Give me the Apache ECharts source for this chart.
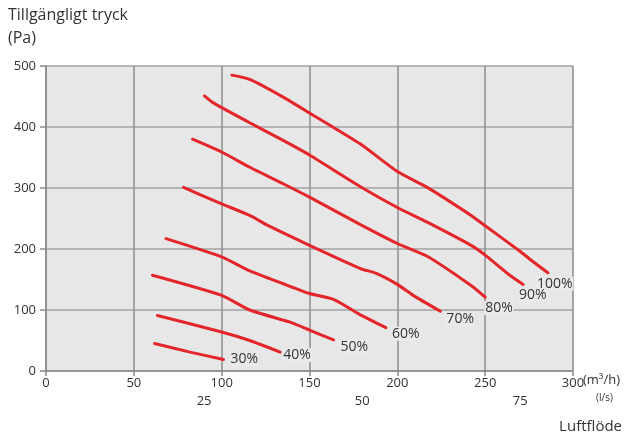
<!DOCTYPE html>
<html>
<head>
<meta charset="utf-8">
<script src="https://cdn.jsdelivr.net/npm/echarts@6/dist/echarts.min.js"></script>
<style>
html,body{margin:0;padding:0;background:#fff;}
#chart{width:624px;height:436px;}
</style>
</head>
<body>
<div id="chart"></div>
<script>
// Flow (m³/h), pressure (Pa)
const xTicks = [0, 50, 100, 150, 200, 250, 300];
const lsTicks = [25, 50, 75];
const seriesNames = ['100%', '90%', '80%', '70%', '60%', '50%', '40%', '30%'];

const s100 = [[105.8,485],[116,478],[135,449],[150,423],[179,372],[200,327],[217,301],[242,255],[250,238],[270,196],[276,182],[285.7,161]];
const s90  = [[90.2,451],[95,440],[116,407],[135,378],[150,354],[179,302],[200,268],[217,244],[242,206],[250,190],[264,157],[271.6,142]];
const s80  = [[83.4,380],[100,359],[116,334],[135,307],[150,285],[179,240],[200,209],[217,188],[242,140],[250,121]];
const s70  = [[78.3,301],[100,274],[116,255],[126,239],[150,206],[179,168],[188,160],[200,142],[209,124],[224.5,98]];
const s60  = [[68.3,217],[100,187],[116,164],[135,143],[150,127],[164,117],[179,92],[193.5,71]];
const s50  = [[60.6,157],[100,124],[116,100],[139,80],[150,67],[163.7,51]];
const s40  = [[63.4,91],[100,64],[116,50],[133.3,31]];
const s30  = [[61.8,45],[82,31],[101,19]];

const allData = [s100, s90, s80, s70, s60, s50, s40, s30];
const labelOffsets = [[-12,11],[-5,11],[-1,11],[5,8],[5,6],[6,7],[2,3],[6,0]];

const chart = echarts.init(document.getElementById('chart'), null, {renderer:'canvas'});
const FONT = '"Open Sans", "Noto Sans", sans-serif';
const TXT = '#333';

const series = allData.map((d, i) => ({
  name: seriesNames[i],
  type: 'line',
  xAxisIndex: 0,
  yAxisIndex: 0,
  data: d,
  smooth: 0.2,
  showSymbol: false,
  symbol: 'none',
  lineStyle: {color: '#e4262b', width: 3, cap: 'round'},
  endLabel: {
    show: true,
    formatter: seriesNames[i],
    distance: 0,
    offset: labelOffsets[i],
    color: TXT,
    fontSize: 14,
    fontFamily: FONT,
    backgroundColor: '#e9eae9',
    padding: [0, 1]
  },
  emphasis: {disabled: true},
  z: 3
}));

chart.setOption({
  animation: false,
  grid: {left: 46, top: 66, width: 527, height: 305, show: true, backgroundColor: '#e6e7e6', borderWidth: 0},
  xAxis: [{
    type: 'value', min: 0, max: 300, interval: 50,
    axisLine: {show: true, lineStyle: {color: '#8a8a8a', width: 1.5}},
    axisTick: {show: true, inside: false, length: 5, lineStyle: {color: '#8a8a8a', width: 1.5}},
    axisLabel: {color: TXT, fontSize: 13, fontFamily: FONT, margin: 6},
    splitLine: {show: true, lineStyle: {color: '#8c8c8c', width: 1.5}}
  }, {
    type: 'value', min: 0, max: 300 / 3.6, interval: 25, position: 'bottom', offset: 20,
    axisLine: {show: false}, axisTick: {show: false}, splitLine: {show: false},
    axisLabel: {color: TXT, fontSize: 13, fontFamily: FONT, margin: 4, showMaxLabel: false,
      formatter: v => (lsTicks.indexOf(v) >= 0 ? String(v) : '')}
  }],
  yAxis: [{
    type: 'value', min: 0, max: 500, interval: 100,
    axisLine: {show: true, lineStyle: {color: '#8a8a8a', width: 1.5}},
    axisTick: {show: true, inside: false, length: 6, lineStyle: {color: '#8a8a8a', width: 1.5}},
    axisLabel: {color: TXT, fontSize: 13, fontFamily: FONT, margin: 10},
    splitLine: {show: true, lineStyle: {color: '#a2a2a2', width: 1.5}}
  }],
  graphic: [
    {type: 'text', left: 8, top: 7, style: {text: 'Tillgängligt tryck', fill: TXT, font: '16px ' + FONT}},
    {type: 'text', left: 8, top: 30, style: {text: '(Pa)', fill: TXT, font: '16px ' + FONT}},
    {type: 'text', left: 583, top: 374, style: {text: '(m³/h)', fill: TXT, font: '13px ' + FONT}},
    {type: 'text', left: 596, top: 393, style: {text: '(l/s)', fill: TXT, font: '10px ' + FONT}},
    {type: 'text', right: 2, top: 419, style: {text: 'Luftflöde', fill: TXT, font: '15px ' + FONT}}
  ],
  series: series
});
</script>
</body>
</html>
